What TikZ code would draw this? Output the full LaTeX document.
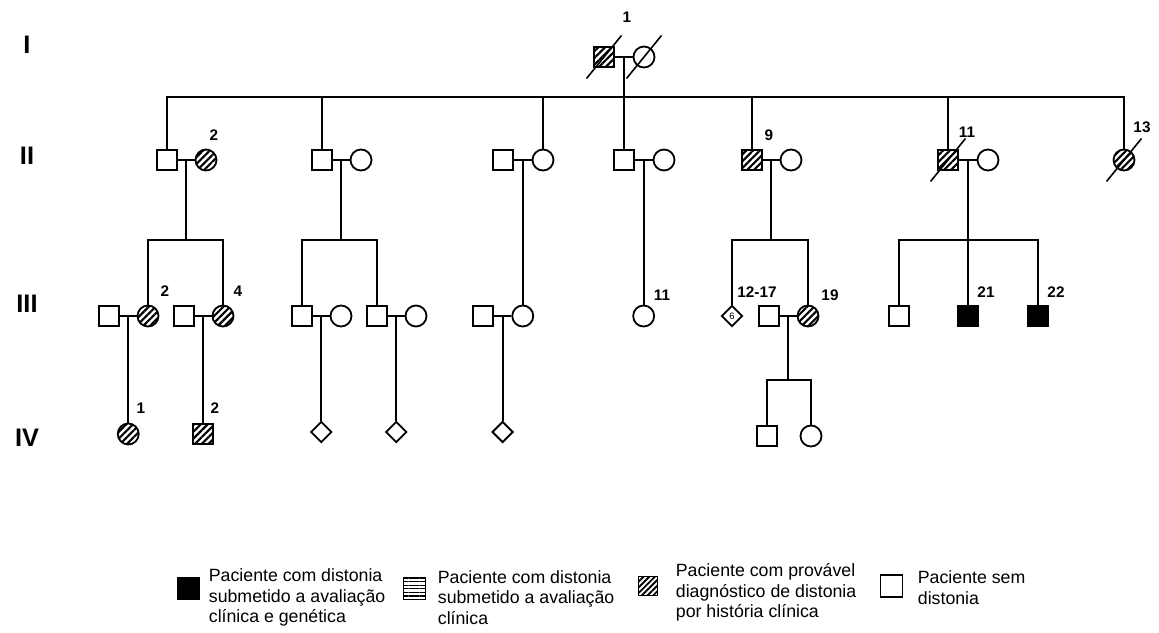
\documentclass[tikz,border=0pt]{standalone}
\usepackage{fontspec}
\setmainfont{Liberation Sans}
\usetikzlibrary{calc,shapes.geometric,patterns.meta}
\begin{document}
\begin{tikzpicture}[x=0.75pt,y=-0.75pt,line width=1.35pt,
  male/.style={draw,rectangle,minimum size=15pt,inner sep=0pt},
  female/.style={draw,circle,minimum size=15.75pt,inner sep=0pt},
  unk/.style={draw,diamond,minimum width=15.75pt,minimum height=15.75pt,inner sep=0pt},
  hatch/.style={pattern={Lines[angle=45,distance=3.6pt,line width=1.6pt]}},
  aff/.style={fill=black},
  lab/.style={font=\bfseries\fontsize{11.5}{13}\selectfont,inner sep=0pt},
  gen/.style={font=\bfseries\fontsize{19}{22}\selectfont,inner sep=0pt},
  leg/.style={anchor=west,align=left,inner sep=0pt,font=\fontsize{13.3}{15.4}\selectfont},
  dead/.style={line width=1.2pt}]
\useasboundingbox (0,0) rectangle (1159,632);
% generation labels
\node[gen] (gI) at (27,45) {I};
\node[gen] (gII) at (27,156) {II};
\node[gen] (gIII) at (27,304) {III};
\node[gen] (gIV) at (27,438) {IV};
% ---------- Generation I
\node[male,hatch] (I1) at (604,57) {};
\node[female] (I2) at (644,57) {};
\node[lab] (lI1) at (627,17) {1};
\draw (I1.east) -- (I2.west);
\coordinate (mI) at ($(I1.east)!0.5!(I2.west)$);
\coordinate (sI) at (mI |- 0,97);
\draw[dead] ($(I1)+(-17.5,21.5)$) -- ($(I1)+(17.5,-21.5)$);
\draw[dead] ($(I2)+(-17.5,21.5)$) -- ($(I2)+(17.5,-21.5)$);
% ---------- Generation II
\node[male] (II1) at (167,160) {};
\node[female,hatch] (II2) at (206,160) {};
\node[male] (II3) at (322,160) {};
\node[female] (II4) at (361,160) {};
\node[male] (II5) at (503,160) {};
\node[female] (II6) at (543,160) {};
\node[male] (II7) at (mI |- 0,160) {};
\node[female] (II8) at (664,160) {};
\node[male,hatch] (II9) at (752,160) {};
\node[female] (II10) at (791,160) {};
\node[male,hatch] (II11) at (948,160) {};
\node[female] (II12) at (988,160) {};
\node[female,hatch] (II13) at (1124,160) {};
\node[lab] (lII2) at (214,135) {2};
\node[lab] (lII9) at (769,135) {9};
\node[lab] (lII11) at (967,132) {11};
\node[lab] (lII13) at (1142,127) {13};
\draw[dead] ($(II11)+(-17.5,21.5)$) -- ($(II11)+(17.5,-21.5)$);
\draw[dead] ($(II13)+(-17.5,21.5)$) -- ($(II13)+(17.5,-21.5)$);
% sibship of generation II
\draw (mI) -- (II7.north);
\draw (II1.north) |- (sI) -| (II13.north);
\draw (II3.north) -- (II3.north |- sI);
\draw (II6.north) -- (II6.north |- sI);
\draw (II9.north) -- (II9.north |- sI);
\draw (II11.north) -- (II11.north |- sI);
% marriages II
\foreach \a/\b/\m in {II1/II2/mII1,II3/II4/mII2,II5/II6/mII3,II7/II8/mII4,II9/II10/mII5,II11/II12/mII6}{
  \draw (\a.east) -- (\b.west);
  \coordinate (\m) at ($(\a.east)!0.5!(\b.west)$);
}
% ---------- Generation III
\node[male] (III0) at (109,316) {};
\node[female,hatch] (III1) at (148,316) {};
\node[male] (III2) at (184,316) {};
\node[female,hatch] (III3) at (223,316) {};
\node[male] (III4) at (302,316) {};
\node[female] (III5) at (341,316) {};
\node[male] (III6) at (377,316) {};
\node[female] (III7) at (416,316) {};
\node[male] (III8) at (483,316) {};
\node[female] (III9) at (mII3 |- 0,316) {};
\node[female] (III10) at (mII4 |- 0,316) {};
\node[unk,font=\fontsize{7}{8}\selectfont] (III11) at (732,316) {6};
\node[male] (III12) at (769,316) {};
\node[female,hatch] (III13) at (808,316) {};
\node[male] (III14) at (899,316) {};
\node[male,aff] (III15) at (mII6 |- 0,316) {};
\node[male,aff] (III16) at (1038,316) {};
\node[lab] (lIII1) at (165,291) {2};
\node[lab] (lIII3) at (238,291) {4};
\node[lab] (lIII10) at (662,295) {11};
\node[lab] (lIII11) at (757,292) {12-17};
\node[lab] (lIII13) at (830,295) {19};
\node[lab] (lIII15) at (986,292) {21};
\node[lab] (lIII16) at (1056,292) {22};
% sibships to generation III
\coordinate (sII1) at (mII1 |- 0,240);
\draw (mII1) -- (sII1);
\draw (III1.north) |- (sII1) -| (III3.north);
\coordinate (sII2) at (mII2 |- 0,240);
\draw (mII2) -- (sII2);
\draw (III4.north) |- (sII2) -| (III6.north);
\draw (mII3) -- (III9.north);
\draw (mII4) -- (III10.north);
\coordinate (sII5) at (mII5 |- 0,240);
\draw (mII5) -- (sII5);
\draw (III11.north) |- (sII5) -| (III13.north);
\coordinate (sII6) at (mII6 |- 0,240);
\draw (mII6) -- (III15.north);
\draw (III14.north) |- (sII6) -| (III16.north);
% marriages III
\foreach \a/\b/\m in {III0/III1/mIII1,III2/III3/mIII2,III4/III5/mIII3,III6/III7/mIII4,III8/III9/mIII5,III12/III13/mIII6}{
  \draw (\a.east) -- (\b.west);
  \coordinate (\m) at ($(\a.east)!0.5!(\b.west)$);
}
% ---------- Generation IV
\node[female,hatch] (IV1) at (mIII1 |- 0,434) {};
\node[male,hatch] (IV2) at (mIII2 |- 0,434) {};
\node[unk] (IV3) at (mIII3 |- 0,432) {};
\node[unk] (IV4) at (mIII4 |- 0,432) {};
\node[unk] (IV5) at (mIII5 |- 0,432) {};
\node[male] (IV6) at (767,436) {};
\node[female] (IV7) at (811,436) {};
\node[lab] (lIV1) at (141,408) {1};
\node[lab] (lIV2) at (215,408) {2};
\draw (mIII1) -- (IV1.north);
\draw (mIII2) -- (IV2.north);
\draw (mIII3) -- (IV3.north);
\draw (mIII4) -- (IV4.north);
\draw (mIII5) -- (IV5.north);
\coordinate (sIII6) at (mIII6 |- 0,380);
\draw (mIII6) -- (sIII6);
\draw (IV6.north) |- (sIII6) -| (IV7.north);
% ---------- Legend
\begin{scope}[line width=0.9pt]
\node[draw,fill=black,minimum size=17pt,inner sep=0pt] (k1) at (188.5,588.5) {};
\node[draw,minimum size=17pt,inner sep=0pt,pattern={Lines[angle=0,distance=2.7pt,line width=0.9pt]}] (k2) at (414.5,588.5) {};
\node[draw,minimum size=14.5pt,inner sep=0pt,pattern={Lines[angle=45,distance=3pt,line width=1.4pt]}] (k3) at (648,586) {};
\node[draw,minimum size=16.5pt,inner sep=0pt] (k4) at (891.5,586) {};
\end{scope}
\node[leg] (t1) at (208,597.5) {Paciente com distonia\\submetido a avaliação\\clínica e genética};
\node[leg] (t2) at (437,597.5) {Paciente com distonia\\submetido a avaliação\\clínica};
\node[leg] (t3) at (675,592.5) {Paciente com provável\\diagnóstico de distonia\\por história clínica};
\node[leg] (t4) at (917,587.5) {Paciente sem\\distonia};
\end{tikzpicture}
\end{document}
